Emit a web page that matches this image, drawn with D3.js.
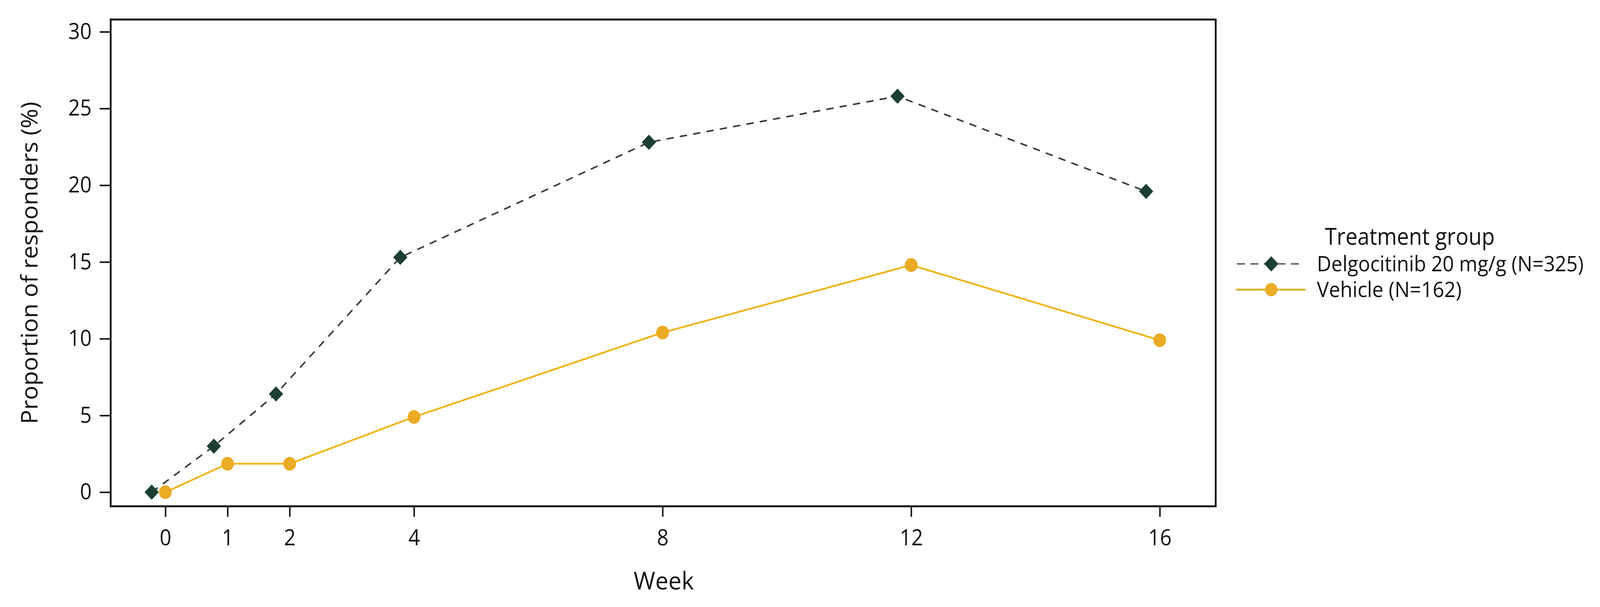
<!DOCTYPE html>
<html>
<head>
<meta charset="utf-8">
<script src="https://cdn.jsdelivr.net/npm/d3@7"></script>
<style>
  html, body { margin: 0; padding: 0; background: #fff; overflow: hidden; }
  svg { display: block; }
  text { font-family: "Open Sans", "Noto Sans", sans-serif; fill: #111; }
</style>
</head>
<body>
<svg id="chart" viewBox="0 0 4380 1555" preserveAspectRatio="none"></svg>
<script>
// data
const weeks = [0, 1, 2, 4, 8, 12, 16];
const delgocitinib = [0, 3.0, 6.4, 15.3, 22.8, 25.8, 19.6];
const vehicle = [0, 1.85, 1.85, 4.9, 10.4, 14.8, 9.9];
const yTicks = [0, 5, 10, 15, 20, 25, 30];
const seriesNames = ["Delgocitinib 20 mg/g (N=325)", "Vehicle (N=162)"];

const frame = { left: 303, right: 3328, top: 50, bottom: 1297 };
const dodge = -0.22; // diamonds sit a little left of their week

// window is narrower than the drawing, so fit the drawing to it
const svg = d3.select("#chart")
  .attr("width", window.innerWidth)
  .attr("height", window.innerHeight);

const x = d3.scaleLinear().domain([-0.88, 16.9]).range([frame.left, frame.right]);
const y = d3.scaleLinear().domain([-0.92, 30.8]).range([frame.bottom, frame.top]);

const zip = (xs, ys, off) => xs.map((w, i) => ({ w: w + off, v: ys[i] }));
const delgoPts = zip(weeks, delgocitinib, dodge);
const vehPts = zip(weeks, vehicle, 0);

// axes
const yAxis = svg.append("g")
  .attr("transform", `translate(${frame.left},0)`)
  .call(d3.axisLeft(y).tickValues(yTicks).tickSize(30).tickPadding(22));
const xAxis = svg.append("g")
  .attr("transform", `translate(0,${frame.bottom})`)
  .call(d3.axisBottom(x).tickValues(weeks).tickSize(27).tickPadding(33));

[yAxis, xAxis].forEach(a => {
  a.select(".domain").remove();
  a.selectAll(".tick line").attr("stroke", "#111").attr("stroke-width", 4);
  a.selectAll(".tick text").attr("font-size", 56).attr("fill", "#111")
    .style("font-family", '"Open Sans", sans-serif');
});

// frame
svg.append("rect")
  .attr("x", frame.left).attr("y", frame.top)
  .attr("width", frame.right - frame.left).attr("height", frame.bottom - frame.top)
  .attr("fill", "none").attr("stroke", "#151515").attr("stroke-width", 5);

const line = d3.line().x(d => x(d.w)).y(d => y(d.v));

// vehicle
svg.append("path").datum(vehPts)
  .attr("d", line).attr("fill", "none")
  .attr("stroke", "#f2b213").attr("stroke-width", 4.5);
svg.selectAll(".veh").data(vehPts).join("circle")
  .attr("cx", d => x(d.w)).attr("cy", d => y(d.v)).attr("r", 17.5)
  .attr("fill", "#ebab22");

// delgocitinib
svg.append("path").datum(delgoPts)
  .attr("d", line).attr("fill", "none")
  .attr("stroke", "#353a38").attr("stroke-width", 4)
  .attr("stroke-dasharray", "20,17");
const diamond = d3.symbol().type(d3.symbolSquare).size(39 * 39 / 2);
svg.selectAll(".delgo").data(delgoPts).join("path")
  .attr("d", diamond)
  .attr("transform", d => `translate(${x(d.w)},${y(d.v)}) rotate(45)`)
  .attr("fill", "#1c3f31");

// axis titles
svg.append("text")
  .attr("transform", `translate(103,${(frame.top + frame.bottom) / 2}) rotate(-90)`)
  .attr("text-anchor", "middle").attr("font-size", 62)
  .attr("textLength", 826).attr("lengthAdjust", "spacingAndGlyphs")
  .text("Proportion of responders (%)");
svg.append("text")
  .attr("x", 1817).attr("y", 1510)
  .attr("text-anchor", "middle").attr("font-size", 63)
  .attr("textLength", 165).attr("lengthAdjust", "spacingAndGlyphs")
  .text("Week");

// legend
const legend = svg.append("g");
legend.append("text")
  .attr("x", 3627).attr("y", 627).attr("font-size", 60)
  .attr("textLength", 465).attr("lengthAdjust", "spacingAndGlyphs")
  .text("Treatment group");

const legRows = [
  { name: seriesNames[0], y: 676, tb: 695, len: 730 },
  { name: seriesNames[1], y: 742, tb: 761, len: 396 }
];
legend.append("line")
  .attr("x1", 3386).attr("x2", 3556).attr("y1", legRows[0].y).attr("y2", legRows[0].y)
  .attr("stroke", "#666").attr("stroke-width", 4).attr("stroke-dasharray", "22,15");
legend.append("path").attr("d", diamond)
  .attr("transform", `translate(3480,${legRows[0].y}) rotate(45)`)
  .attr("fill", "#1c3f31");
legend.append("line")
  .attr("x1", 3384).attr("x2", 3574).attr("y1", legRows[1].y).attr("y2", legRows[1].y)
  .attr("stroke", "#dcb22a").attr("stroke-width", 5);
legend.append("circle").attr("cx", 3480).attr("cy", legRows[1].y).attr("r", 17)
  .attr("fill", "#ebab22");

legend.selectAll(".lt").data(legRows).join("text")
  .attr("x", 3605).attr("y", d => d.tb).attr("font-size", 54)
  .attr("textLength", d => d.len).attr("lengthAdjust", "spacingAndGlyphs")
  .text(d => d.name);
</script>
</body>
</html>
